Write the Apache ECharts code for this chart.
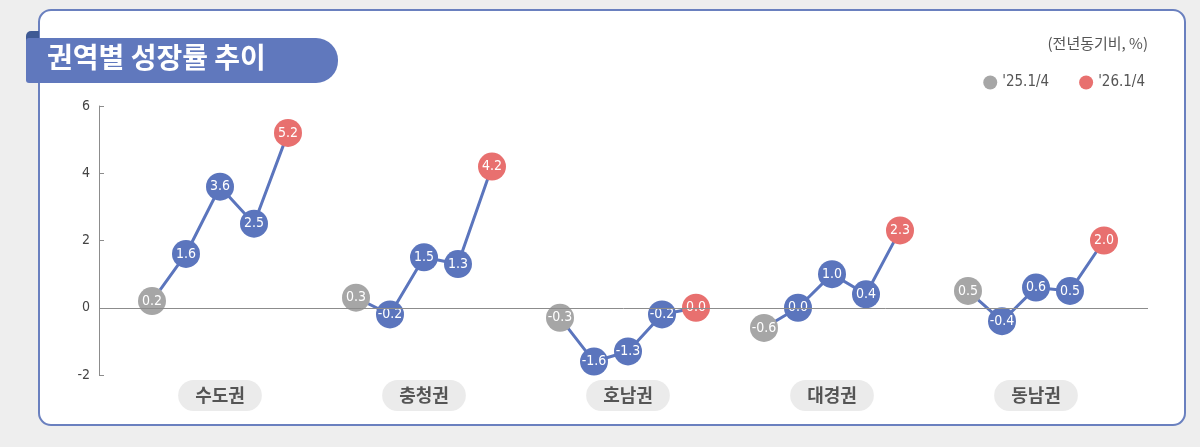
<!DOCTYPE html>
<html>
<head>
<meta charset="utf-8">
<script src="https://cdn.jsdelivr.net/npm/echarts@6/dist/echarts.min.js"></script>
<style>
  html, body { margin: 0; padding: 0; background: #eeeeee; }
  #chart { width: 1200px; height: 447px; }
</style>
</head>
<body>
<div id="chart"></div>
<script>
// Data: 권역별 성장률 (전년동기비, %), '25.1/4 ~ '26.1/4
const regions = ['수도권', '충청권', '호남권', '대경권', '동남권'];
const capital   = [0.2, 1.6, 3.6, 2.5, 5.2];
const chungcheong = [0.3, -0.2, 1.5, 1.3, 4.2];
const honam     = [-0.3, -1.6, -1.3, -0.2, 0.0];
const daegyeong = [-0.6, 0.0, 1.0, 0.4, 2.3];
const dongnam   = [0.5, -0.4, 0.6, 0.5, 2.0];
const yTicks = [-2, 0, 2, 4, 6];
const firstLabel = "'25.1/4";
const lastLabel = "'26.1/4";

const groups = [capital, chungcheong, honam, daegyeong, dongnam];
const SLOTS = 6; // 5 quarters + 1 gap per region

const BLUE = '#5b75bd';
const GRAY = '#a6a6a6';
const RED = '#e8706f';
const NUM_FONT = "'DejaVu Sans Condensed', 'Liberation Sans Narrow', Roboto, sans-serif";
const KR_FONT = "'Noto Sans CJK KR', 'Noto Sans', sans-serif";

const pointLabel = {
    show: true,
    position: 'inside',
    color: '#ffffff',
    fontFamily: NUM_FONT,
    fontSize: 14,
    formatter: p => p.value[1].toFixed(1)
};

// one blue line per region, middle quarters drawn as blue dots
const lineSeries = groups.map((vals, g) => ({
    type: 'line',
    z: 2,
    data: vals.map((v, i) => {
        const item = { value: [g * SLOTS + i, v] };
        if (i === 0 || i === vals.length - 1) {
            item.symbol = 'none';
            item.label = { show: false };
        }
        return item;
    }),
    symbol: 'circle',
    symbolSize: 28,
    lineStyle: { color: BLUE, width: 3 },
    itemStyle: { color: BLUE, opacity: 1 },
    label: pointLabel,
    silent: true,
    markLine: g === 0 ? {
        silent: true,
        symbol: 'none',
        label: { show: false },
        lineStyle: { color: '#8c8c8c', width: 1, type: 'solid' },
        data: [{ yAxis: 0 }]
    } : undefined
}));

const firstSeries = {
    name: firstLabel,
    type: 'scatter',
    z: 3,
    symbolSize: 28,
    itemStyle: { color: GRAY, opacity: 1 },
    label: pointLabel,
    data: groups.map((vals, g) => [g * SLOTS, vals[0]])
};

const lastSeries = {
    name: lastLabel,
    type: 'scatter',
    z: 3,
    symbolSize: 28,
    itemStyle: { color: RED, opacity: 1 },
    label: pointLabel,
    data: groups.map((vals, g) => [g * SLOTS + vals.length - 1, vals[vals.length - 1]])
};

const chart = echarts.init(document.getElementById('chart'));

chart.setOption({
    backgroundColor: '#eeeeee',
    animation: false,
    graphic: [
        // card
        {
            type: 'rect', z: 0,
            shape: { x: 39, y: 10, width: 1146, height: 415, r: 12 },
            style: { fill: '#ffffff', stroke: '#6a80bf', lineWidth: 2 }
        },
        // title ribbon fold
        {
            type: 'rect', z: 1,
            shape: { x: 26, y: 31, width: 13, height: 12, r: [5, 0, 0, 0] },
            style: { fill: '#3f5a94' }
        },
        // title ribbon
        {
            type: 'rect', z: 2,
            shape: { x: 26, y: 38, width: 312, height: 45, r: [3, 22, 22, 3] },
            style: { fill: '#6078bd' }
        },
        {
            type: 'text', z: 3,
            left: 47, top: 43,
            style: {
                text: '권역별 성장률 추이',
                fill: '#ffffff',
                font: 'bold 28px ' + KR_FONT
            }
        },
        {
            type: 'text', z: 3,
            right: 52, top: 36,
            style: {
                text: '(전년동기비, %)',
                fill: '#555555',
                font: '15px ' + KR_FONT,
                textAlign: 'right'
            }
        }
    ],
    legend: {
        right: 50,
        top: 70,
        icon: 'circle',
        itemWidth: 14,
        itemHeight: 14,
        itemGap: 30,
        data: [firstLabel, lastLabel],
        textStyle: { color: '#555555', fontSize: 15, fontFamily: NUM_FONT }
    },
    grid: { left: 99, right: 52, top: 106, bottom: 72 },
    xAxis: {
        type: 'value',
        min: -53 / 34,
        max: 996 / 34,
        splitLine: { show: false },
        axisLine: { show: false },
        axisTick: { show: false },
        axisLabel: {
            customValues: regions.map((r, g) => g * SLOTS + 2),
            formatter: v => regions[Math.round((v - 2) / SLOTS)],
            margin: 5,
            color: '#555555',
            fontFamily: KR_FONT,
            fontWeight: 'bold',
            fontSize: 18,
            backgroundColor: '#ebebeb',
            borderRadius: 16,
            padding: [6, 17, 7, 17]
        }
    },
    yAxis: {
        type: 'value',
        min: yTicks[0],
        max: yTicks[yTicks.length - 1],
        interval: 2,
        splitLine: { show: false },
        axisLine: { show: true, onZero: false, lineStyle: { color: '#8c8c8c', width: 1 } },
        axisTick: { show: true, inside: true, length: 5, lineStyle: { color: '#8c8c8c' } },
        axisLabel: {
            margin: 9,
            color: '#444444',
            fontFamily: NUM_FONT,
            fontSize: 14
        }
    },
    series: [...lineSeries, firstSeries, lastSeries]
});
</script>
</body>
</html>
